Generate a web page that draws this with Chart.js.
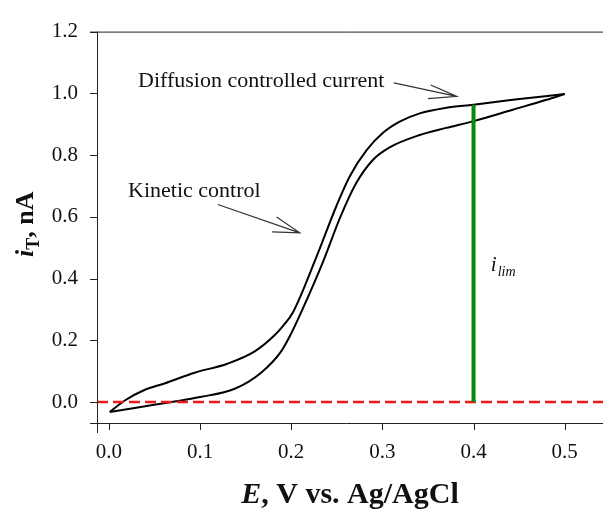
<!DOCTYPE html>
<html>
<head>
<meta charset="utf-8">
<script src="https://cdn.jsdelivr.net/npm/chart.js@4.4.1/dist/chart.umd.min.js"></script>
<style>
  html, body { margin: 0; padding: 0; background: #fff; }
  #wrap { width: 603px; height: 509px; }
</style>
</head>
<body>
<div id="wrap"><canvas id="cvChart"></canvas></div>
<script>
// lower branch of the voltammogram (E in V, i in nA)
const lowerE = [0.001, 0.035, 0.069, 0.10, 0.138, 0.167, 0.189, 0.200, 0.211, 0.235, 0.2533, 0.2715, 0.2898, 0.308, 0.341, 0.370, 0.40, 0.443, 0.48, 0.50];
const lowerI = [-0.032, -0.016, 0.0, 0.016, 0.043, 0.095, 0.164, 0.222, 0.291, 0.455, 0.595, 0.710, 0.785, 0.825, 0.865, 0.888, 0.910, 0.947, 0.979, 0.998];
// upper branch
const upperE = [0.001, 0.0175, 0.039, 0.061, 0.094, 0.130, 0.160, 0.182, 0.192, 0.202, 0.2277, 0.2496, 0.264, 0.2825, 0.3007, 0.319, 0.341, 0.370, 0.40, 0.443, 0.50];
const upperI = [-0.032, 0.005, 0.039, 0.060, 0.095, 0.124, 0.164, 0.217, 0.250, 0.291, 0.470, 0.635, 0.730, 0.815, 0.872, 0.908, 0.935, 0.953, 0.963, 0.979, 0.998];
// limiting current marker and zero line
const limE = [0.4, 0.4];
const limI = [0, 0.963];
const zeroE = [-0.013, 0.542];
const zeroI = [0, 0];
// ticks
const xTicks = [0, 0.1, 0.2, 0.3, 0.4, 0.5];
const yTicks = [0, 0.2, 0.4, 0.6, 0.8, 1.0, 1.2];

const toXY = (xs, ys) => xs.map((v, i) => ({ x: v, y: ys[i] }));

const serif = '"Liberation Serif", "Times New Roman", serif';

const axesPlugin = {
  id: 'axesPlugin',
  afterDraw(chart) {
    const { ctx, chartArea: a, scales: { x, y } } = chart;
    ctx.save();
    ctx.strokeStyle = '#222';
    ctx.lineWidth = 1;
    ctx.beginPath();
    // left axis (runs past the x axis)
    ctx.moveTo(a.left + 0.5, a.top);
    ctx.lineTo(a.left + 0.5, a.bottom + 10);
    // bottom axis
    ctx.moveTo(a.left - 7, a.bottom + 0.5);
    ctx.lineTo(a.right, a.bottom + 0.5);
    // top frame
    ctx.moveTo(a.left - 7, a.top + 0.5);
    ctx.lineTo(a.right, a.top + 0.5);
    yTicks.forEach(t => {
      const p = Math.round(y.getPixelForValue(t)) + 0.5;
      ctx.moveTo(a.left - 7, p);
      ctx.lineTo(a.left, p);
    });
    xTicks.forEach(t => {
      const p = Math.round(x.getPixelForValue(t)) + 0.5;
      ctx.moveTo(p, a.bottom);
      ctx.lineTo(p, a.bottom + 7);
    });
    ctx.stroke();

    // axis titles
    ctx.fillStyle = '#111';
    ctx.textBaseline = 'alphabetic';
    // x title: E, V vs. Ag/AgCl
    const fx = 30;
    const p1 = 'E', p2 = ', V vs. Ag/AgCl';
    ctx.font = 'italic bold ' + fx + 'px ' + serif;
    const w1 = ctx.measureText(p1).width;
    ctx.font = 'bold ' + fx + 'px ' + serif;
    const w2 = ctx.measureText(p2).width;
    const sx = (a.left + a.right) / 2 - (w1 + w2) / 2;
    const by = chart.height - 6;
    ctx.font = 'italic bold ' + fx + 'px ' + serif;
    ctx.fillText(p1, sx, by);
    ctx.font = 'bold ' + fx + 'px ' + serif;
    ctx.fillText(p2, sx + w1, by);

    // y title: i_T, nA (rotated)
    const fy = 26;
    ctx.save();
    ctx.translate(33, (a.top + a.bottom) / 2 - 3);
    ctx.rotate(-Math.PI / 2);
    ctx.font = 'italic bold ' + fy + 'px ' + serif;
    const q1 = ctx.measureText('i').width;
    ctx.font = 'bold ' + Math.round(fy * 0.68) + 'px ' + serif;
    const q2 = ctx.measureText('T').width;
    ctx.font = 'bold ' + fy + 'px ' + serif;
    const q3 = ctx.measureText(', nA').width;
    const tx = -(q1 + q2 + q3) / 2;
    ctx.font = 'italic bold ' + fy + 'px ' + serif;
    ctx.fillText('i', tx, 0);
    ctx.font = 'bold ' + Math.round(fy * 0.68) + 'px ' + serif;
    ctx.fillText('T', tx + q1, 6);
    ctx.font = 'bold ' + fy + 'px ' + serif;
    ctx.fillText(', nA', tx + q1 + q2, 0);
    ctx.restore();
    ctx.restore();
  }
};

const notesPlugin = {
  id: 'notesPlugin',
  afterDatasetsDraw(chart) {
    const { ctx, scales: { x, y } } = chart;
    const px = v => x.getPixelForValue(v);
    const py = v => y.getPixelForValue(v);
    ctx.save();
    ctx.fillStyle = '#111';
    ctx.strokeStyle = '#333';
    ctx.lineWidth = 1.2;
    ctx.font = '22px ' + serif;
    ctx.textBaseline = 'middle';
    ctx.fillText('Diffusion controlled current', px(0.032), py(1.040));
    ctx.fillText('Kinetic control', px(0.021), py(0.682));

    const arrow = (x0, y0, x1, y1, b1x, b1y, b2x, b2y) => {
      ctx.beginPath();
      ctx.moveTo(px(x0), py(y0));
      ctx.lineTo(px(x1), py(y1));
      ctx.moveTo(px(b1x), py(b1y));
      ctx.lineTo(px(x1), py(y1));
      ctx.lineTo(px(b2x), py(b2y));
      ctx.stroke();
    };
    arrow(0.3125, 1.034, 0.3816, 0.990, 0.353, 1.027, 0.350, 0.983);
    arrow(0.1195, 0.640, 0.2094, 0.548, 0.184, 0.599, 0.179, 0.551);

    // i_lim label
    ctx.textBaseline = 'alphabetic';
    ctx.font = 'italic 21px ' + serif;
    const ix = px(0.419), iy = py(0.425);
    ctx.fillText('i', ix, iy);
    const iw = ctx.measureText('i').width;
    ctx.font = 'italic 14px ' + serif;
    ctx.fillText('lim', ix + iw + 1, iy + 5);
    ctx.restore();
  }
};

const ctx = document.getElementById('cvChart').getContext('2d');

new Chart(ctx, {
  type: 'scatter',
  data: {
    datasets: [
      {
        label: 'i lim',
        data: toXY(limE, limI),
        showLine: true,
        borderColor: '#0a8a0a',
        borderWidth: 4,
        pointRadius: 0
      },
      {
        label: 'zero',
        data: toXY(zeroE, zeroI),
        showLine: true,
        borderColor: '#f01818',
        borderWidth: 2.5,
        borderDash: [11, 5],
        pointRadius: 0
      },
      {
        label: 'upper',
        data: toXY(upperE, upperI),
        showLine: true,
        borderColor: '#000',
        borderWidth: 2,
        cubicInterpolationMode: 'monotone',
        pointRadius: 0
      },
      {
        label: 'lower',
        data: toXY(lowerE, lowerI),
        showLine: true,
        borderColor: '#000',
        borderWidth: 2,
        cubicInterpolationMode: 'monotone',
        pointRadius: 0
      }
    ]
  },
  options: {
    responsive: true,
    maintainAspectRatio: false,
    animation: false,
    layout: { padding: { top: 23, right: 0, left: 0, bottom: 0 } },
    plugins: {
      legend: { display: false },
      tooltip: { enabled: false }
    },
    scales: {
      x: {
        type: 'linear',
        min: -0.013,
        max: 0.542,
        afterBuildTicks: s => { s.ticks = xTicks.map(v => ({ value: v })); },
        afterFit: s => { s.height = 86; },
        grid: { display: false, drawTicks: false },
        border: { display: false },
        ticks: {
          padding: 17,
          color: '#111',
          font: { family: serif, size: 21 },
          callback: v => v.toFixed(1)
        }
      },
      y: {
        type: 'linear',
        min: -0.068,
        max: 1.2,
        afterBuildTicks: s => { s.ticks = yTicks.map(v => ({ value: v })); },
        afterFit: s => { s.width = 97; },
        grid: { display: false, drawTicks: false },
        border: { display: false },
        ticks: {
          padding: 19,
          color: '#111',
          font: { family: serif, size: 21 },
          callback: v => v.toFixed(1)
        }
      }
    }
  },
  plugins: [axesPlugin, notesPlugin]
});
</script>
</body>
</html>
